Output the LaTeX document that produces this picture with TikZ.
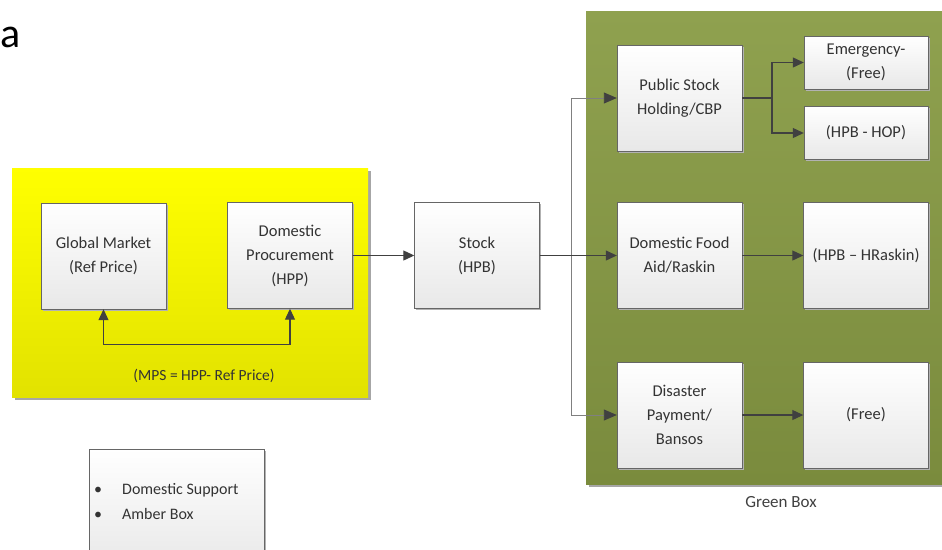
\documentclass[tikz,border=0pt]{standalone}
\usepackage{fontspec}
\setmainfont{Carlito}
\usetikzlibrary{arrows.meta,shadows}
\definecolor{boxtext}{HTML}{333333}
\definecolor{arrowgray}{HTML}{404040}
\definecolor{yelltop}{HTML}{FFFF00}
\definecolor{yellbot}{HTML}{E2E200}
\definecolor{greentop}{HTML}{8FA14F}
\definecolor{greenbot}{HTML}{7A8B3D}

\begin{document}
\begin{tikzpicture}[x=1pt, y=-1pt,
  box/.style={draw=gray!80!black, top color=white, bottom color=black!9, text=boxtext, align=center,
    inner sep=2pt, font=\fontsize{16.5}{24}\selectfont,
    general shadow={fill=black!30, shadow xshift=1.5pt, shadow yshift=-1.5pt}},
  bigbox/.style={box, minimum width=125pt, minimum height=106pt},
  smallbox/.style={box, minimum width=124pt, minimum height=53pt},
  arr/.style={draw=arrowgray, line width=1.1pt, -{Triangle[length=11pt,width=10pt]}},
  thinarr/.style={draw=gray, line width=0.9pt, -{Triangle[length=13pt,width=11pt,color=arrowgray]}},
  link/.style={draw=arrowgray, line width=1.1pt}]
\useasboundingbox (0,0) rectangle (942,549);

% title fragment
\node[anchor=base west, inner sep=0, font=\fontsize{42}{48}\selectfont] (title) at (0.5,47) {a};

% amber (yellow) area
\fill[black!35] (14.5,170.5) rectangle (370.5,399.5);
\shade[top color=yelltop, bottom color=yellbot] (12,168) rectangle (368,397);
\node[text=boxtext, font=\fontsize{15.5}{18}\selectfont] (mps) at (204,376) {(MPS = HPP- Ref Price)};

% green area
\fill[black!35] (588.5,13.5) rectangle (950,486.5);
\shade[top color=greentop, bottom color=greenbot] (586,11) rectangle (950,484);
\node[text=arrowgray, font=\fontsize{17}{20}\selectfont] (green) at (781,502) {Green Box};

% boxes
\node[bigbox] (gm) at (103.5,256) {Global Market\\(Ref Price)};
\node[bigbox] (dp) at (290,255.5) {Domestic\\Procurement\\(HPP)};
\node[bigbox] (stock) at (477,255.5) {Stock\\(HPB)};
\node[bigbox] (psh) at (679.5,98) {Public Stock\\Holding/CBP};
\node[bigbox] (dfa) at (679.5,255.5) {Domestic Food\\Aid/Raskin};
\node[bigbox] (dis) at (679.5,415) {Disaster\\Payment/\\Bansos};
\node[smallbox] (emg) at (866,62.5) {Emergency-\\(Free)};
\node[smallbox] (hop) at (866,133) {(HPB - HOP)};
\node[bigbox] (hrk) at (866,255.5) {(HPB -- HRaskin)};
\node[bigbox] (free) at (866,415) {(Free)};

% legend
\node[box, minimum width=175pt, minimum height=120pt, anchor=north west] (legend) at (89,449) {};
\node[anchor=west, text=boxtext, font=\fontsize{16}{20}\selectfont, inner sep=0] (ds) at (94,490)
  {\makebox[28pt][l]{\textbullet}Domestic Support};
\node[anchor=west, text=boxtext, font=\fontsize{16}{20}\selectfont, inner sep=0] (ab) at (94,514)
  {\makebox[28pt][l]{\textbullet}Amber Box};

% connectors
\draw[arrowgray, line width=1.1pt, {Triangle[length=11pt,width=10pt]}-{Triangle[length=11pt,width=10pt]}]
  (gm.south) -- ++(0,35) -| (dp.south);
\draw[arr] (dp) -- (stock);
\coordinate (split) at (571,255.5);
\draw[thinarr] (split) |- (psh.west);
\draw[thinarr] (split) |- (dis.west);
\draw[arr] (stock) -- (dfa);
\coordinate (fork) at (772,98);
\draw[link] (psh) -- (fork);
\draw[arr] (fork) |- (emg.west);
\draw[arr] (fork) |- (hop.west);
\draw[arr] (dfa) -- (hrk);
\draw[arr] (dis) -- (free);
\end{tikzpicture}
\end{document}
